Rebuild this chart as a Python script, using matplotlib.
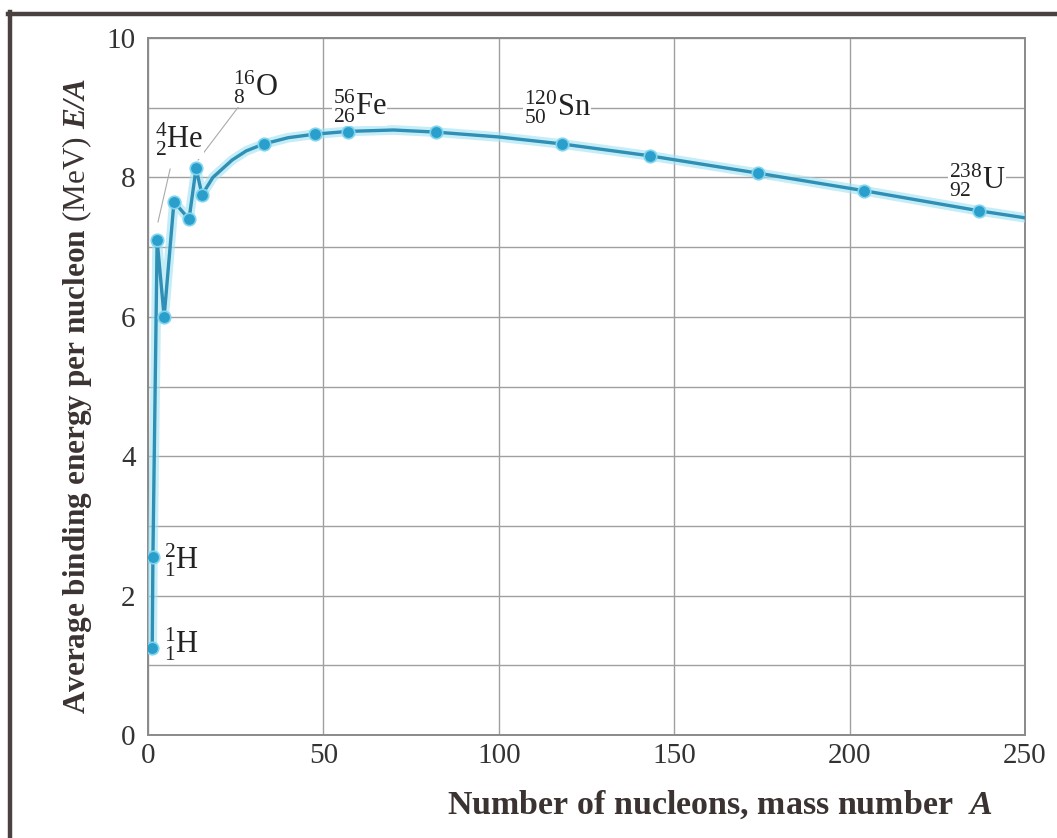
import numpy as np
import matplotlib.pyplot as plt
from matplotlib.lines import Line2D

plt.rcParams['font.family'] = ['Liberation Serif', 'DejaVu Serif']
plt.rcParams['mathtext.fontset'] = 'custom'
plt.rcParams['mathtext.rm'] = 'Liberation Serif'
plt.rcParams['mathtext.it'] = 'Liberation Serif:italic'
plt.rcParams['mathtext.bf'] = 'Liberation Serif:bold'
plt.rcParams['mathtext.bfit'] = 'Liberation Serif:bold:italic'

# marked nuclides (mass number A, binding energy per nucleon in MeV)
mark_A = [1.2, 1.4, 2.6, 4.6, 7.4, 11.7, 13.7, 15.4, 33, 47.5, 57, 82, 118, 143, 174, 204, 237]
mark_E = [1.25, 2.55, 7.1, 6.0, 7.65, 7.4, 8.13, 7.75, 8.48, 8.62, 8.65, 8.65, 8.48, 8.31, 8.06, 7.81, 7.52]

# curve drawn through them
curve_A = [1.2, 1.4, 2.6, 4.6, 7.4, 11.7, 13.7, 15.4, 18.5, 24, 28, 33, 40, 47.5, 57, 70, 82,
           100, 118, 143, 174, 204, 237, 250]
curve_E = [1.25, 2.55, 7.1, 6.0, 7.65, 7.4, 8.13, 7.75, 8.0, 8.25, 8.38, 8.48, 8.57, 8.62, 8.66,
           8.68, 8.65, 8.58, 8.48, 8.31, 8.06, 7.81, 7.52, 7.42]

labels = [r'${}^{1}_{1}\mathrm{H}$', r'${}^{2}_{1}\mathrm{H}$', r'${}^{4}_{2}\mathrm{He}$',
          r'${}^{16}_{8}\mathrm{O}$', r'${}^{56}_{26}\mathrm{Fe}$', r'${}^{120}_{50}\mathrm{Sn}$',
          r'${}^{238}_{92}\mathrm{U}$']
label_A = [4.5, 4.5, 2.0, 24.2, 52.7, 107.2, 228.3]
label_E = [1.3, 2.51, 8.54, 9.29, 9.02, 9.0, 7.96]

xticks = [0, 50, 100, 150, 200, 250]
yticks = [0, 2, 4, 6, 8, 10]

txt = '#3a3331'
fig = plt.figure(figsize=(10.57, 8.38), dpi=100)
ax = fig.add_axes([148/1057, 1 - 735/838, (1025 - 148)/1057, (735 - 38)/838])

ax.plot(curve_A, curve_E, color='#9fe2f4', lw=7, alpha=0.6, solid_capstyle='round', zorder=3)
ax.plot(curve_A, curve_E, color='#2f8fb4', lw=2.4, zorder=4)
ax.plot(mark_A, mark_E, 'o', ms=9, color='#2a9fcc', mec='#7fd4ee', mew=1.2, zorder=5)

# pointer lines for He and O
ax.plot([2.85, 6.3], [7.36, 8.12], color='#aaaaaa', lw=0.8, zorder=2)
ax.plot([14.3, 26.2], [8.25, 9.04], color='#aaaaaa', lw=0.8, zorder=2)

for i, (s, a, e) in enumerate(zip(labels, label_A, label_E)):
    t = ax.text(a, e, s, fontsize=22, color='#222222', ha='left', va='center', zorder=6)
    if i >= 2:
        t.set_bbox(dict(facecolor='white', edgecolor='none', pad=0.5))

ax.set_xlim(0, 250)
ax.set_ylim(0, 10)
ax.set_xticks(xticks)
ax.set_yticks(yticks)
ax.set_yticks(range(1, 10, 2), minor=True)
ax.grid(True, which='both', color='#a0a0a0', lw=1.0)
ax.tick_params(which='both', length=0, labelsize=21, labelcolor='#333333')
ax.tick_params(axis='x', pad=6)
ax.tick_params(axis='y', pad=9)
for sp in ax.spines.values():
    sp.set_color('#8a8a8a')
    sp.set_linewidth(1.4)

fig.text(77/1057, 1 - 396/838,
         r'Average binding energy per nucleon $\mathrm{(MeV)}$ $\mathbfit{E/A}$',
         rotation=90, ha='center', va='center', fontsize=22.5, fontweight='bold', color=txt)
fig.text(720/1057, 1 - 805/838, r'Number of nucleons, mass number  $\mathbfit{A}$',
         ha='center', va='center', fontsize=24.5, fontweight='bold', color=txt)

# frame on top and left
fig.add_artist(Line2D([9.5/1057, 9.5/1057], [0, 1 - 12/838], color='#4a4240', lw=3.2))
fig.add_artist(Line2D([8/1057, 1], [1 - 14/838, 1 - 14/838], color='#4a4240', lw=3.2))

fig.savefig('out.png', dpi=100)
